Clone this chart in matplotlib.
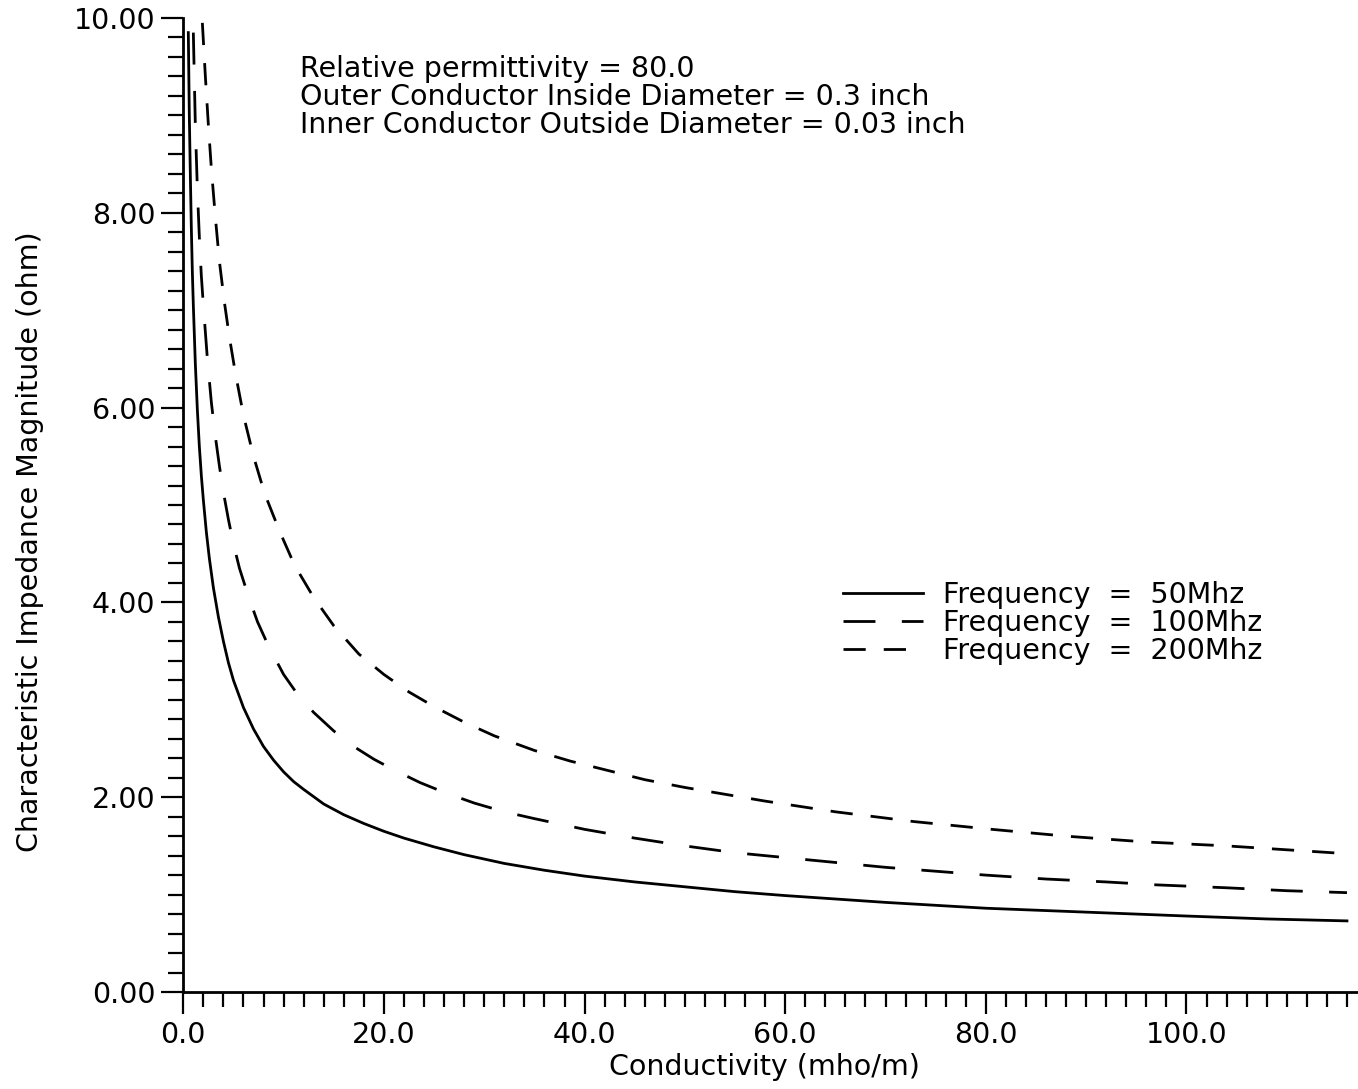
import matplotlib
matplotlib.use("Agg")
import matplotlib.pyplot as plt
from matplotlib.ticker import MultipleLocator, FormatStrFormatter

# ---- data ----
cond_50 = [0.5, 0.6, 0.7, 0.8, 0.9, 1.0, 1.2, 1.4, 1.6, 1.8, 2.0, 2.3, 2.6, 3.0,
           3.5, 4.0, 4.5, 5.0, 6.0, 7.0, 8.0, 9.0, 10, 11, 12, 14, 16, 18, 20,
           22, 25, 28, 32, 36, 40, 45, 50, 55, 60, 70, 80, 90, 100, 108, 116]
z_50 = [9.85, 9.0, 8.4, 7.85, 7.4, 7.05, 6.45, 5.98, 5.6, 5.3, 5.05, 4.72, 4.45, 4.15,
        3.85, 3.6, 3.38, 3.2, 2.92, 2.7, 2.52, 2.38, 2.26, 2.16, 2.08, 1.93, 1.82, 1.73, 1.65,
        1.58, 1.49, 1.41, 1.32, 1.25, 1.19, 1.13, 1.08, 1.03, 0.99, 0.92, 0.86, 0.82, 0.78, 0.75, 0.73]

cond_100 = [1.0, 1.2, 1.4, 1.6, 1.8, 2.0, 2.4, 2.8, 3.2, 3.6, 4.0, 4.5, 5.0, 5.6,
            6.5, 7.4, 8.5, 10, 11.5, 13, 15, 17, 19, 21, 23.6, 26, 29, 32, 35,
            40, 45, 50, 55, 60, 65, 70, 75, 80, 86, 92, 97, 104, 110, 116]
z_100 = [9.85, 8.9, 8.25, 7.75, 7.35, 7.05, 6.5, 6.05, 5.7, 5.4, 5.13, 4.85, 4.6, 4.35,
         4.06, 3.8, 3.55, 3.26, 3.04, 2.87, 2.68, 2.52, 2.39, 2.28, 2.15, 2.05, 1.94, 1.85, 1.78,
         1.67, 1.58, 1.50, 1.43, 1.38, 1.33, 1.28, 1.24, 1.20, 1.16, 1.13, 1.10, 1.07, 1.04, 1.02]

cond_200 = [1.9, 2.2, 2.5, 2.8, 3.2, 3.6, 4.1, 4.6, 5.2, 6.0, 7.0, 8.1, 9.6, 11.1,
            13, 15, 17.5, 20, 22.5, 25, 28, 31, 35, 38.6, 42.5, 46, 50, 54, 58,
            65, 72.8, 80.6, 88, 96, 104, 110, 116]
z_200 = [9.95, 9.4, 8.9, 8.45, 7.95, 7.5, 7.08, 6.72, 6.35, 5.92, 5.5, 5.12, 4.73, 4.38,
         4.05, 3.76, 3.47, 3.26, 3.08, 2.93, 2.77, 2.63, 2.48, 2.37, 2.27, 2.18, 2.10, 2.03, 1.96,
         1.85, 1.75, 1.67, 1.60, 1.54, 1.50, 1.46, 1.42]

labels = ["Frequency  =  50Mhz", "Frequency  =  100Mhz", "Frequency  =  200Mhz"]
info_lines = ["Relative permittivity = 80.0",
              "Outer Conductor Inside Diameter = 0.3 inch",
              "Inner Conductor Outside Diameter = 0.03 inch"]
x_label = "Conductivity (mho/m)"
y_label = "Characteristic Impedance Magnitude (ohm)"

plt.rcParams["font.family"] = ["DejaVu Sans"]
plt.rcParams["lines.scale_dashes"] = False

W, H = 1358, 1089
fig = plt.figure(figsize=(W / 100, H / 100), dpi=100)
ax = fig.add_axes([183.3 / W, 1 - 992 / H, (1357 - 183.3) / W, (992 - 18) / H])

lw = 2.0
ax.plot(cond_50, z_50, color="black", lw=lw, label=labels[0])
ax.plot(cond_100, z_100, color="black", lw=lw, dashes=(23, 19), label=labels[1])
ax.plot(cond_200, z_200, color="black", lw=lw, dashes=(16, 13), label=labels[2])

ax.set_xlim(0, 117)
ax.set_ylim(0, 10)
for s in ["top", "right"]:
    ax.spines[s].set_visible(False)
for s in ["left", "bottom"]:
    ax.spines[s].set_linewidth(2.0)

ax.xaxis.set_major_locator(MultipleLocator(20))
ax.xaxis.set_minor_locator(MultipleLocator(2))
ax.yaxis.set_major_locator(MultipleLocator(2))
ax.yaxis.set_minor_locator(MultipleLocator(0.2))
ax.xaxis.set_major_formatter(FormatStrFormatter("%.1f"))
ax.yaxis.set_major_formatter(FormatStrFormatter("%.2f"))

fs = 20.5
ax.tick_params(axis="both", which="major", direction="out", length=16, width=1.6,
               labelsize=fs, colors="black")
ax.tick_params(axis="both", which="minor", direction="out", length=10.5, width=1.6)
ax.tick_params(axis="x", which="major", pad=5)
ax.tick_params(axis="y", which="major", pad=4)

ax.set_xlabel(x_label, fontsize=fs)
ax.xaxis.set_label_coords(0.495, -0.063)
ax.set_ylabel(y_label, fontsize=fs)
ax.yaxis.set_label_coords(-0.119, 0.462)

ax.text(11.6, 9.62, "\n".join(info_lines), fontsize=fs, va="top", ha="left",
        linespacing=1.0)

leg = ax.legend(loc="upper left", bbox_to_anchor=(0.562, 0.422), frameon=False,
                fontsize=fs, handlelength=2.8, handletextpad=0.7,
                labelspacing=0.0, borderpad=0, borderaxespad=0)

fig.savefig("out.png", dpi=100, facecolor="white")
